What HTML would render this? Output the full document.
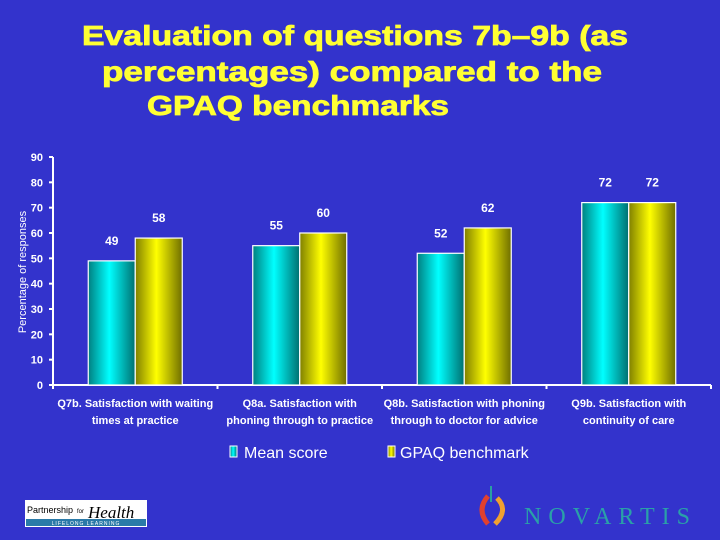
<!DOCTYPE html>
<html><head><meta charset="utf-8"><style>
body{margin:0;background:#3333cc;}
svg{display:block;font-family:"Liberation Sans",Arial,sans-serif;}
</style></head><body>
<svg id="chart" width="720" height="540" viewBox="0 0 720 540">
<defs>
<linearGradient id="gc" x1="0" x2="1" y1="0" y2="0"><stop offset="0" stop-color="#007f80"/><stop offset="0.45" stop-color="#00ffff"/><stop offset="1" stop-color="#006f70"/></linearGradient>
<linearGradient id="gy" x1="0" x2="1" y1="0" y2="0"><stop offset="0" stop-color="#807f00"/><stop offset="0.45" stop-color="#ffff00"/><stop offset="1" stop-color="#6f6e00"/></linearGradient>
</defs>
<rect width="720" height="540" fill="#3333cc"/>
<g fill="#ffff33" font-weight="bold" font-size="28" text-anchor="middle" stroke="#ffff33" stroke-width="0.8">
<text x="355" y="45" textLength="546" lengthAdjust="spacingAndGlyphs">Evaluation of questions 7b–9b (as</text>
<text x="352" y="81" textLength="500" lengthAdjust="spacingAndGlyphs">percentages) compared to the</text>
<text x="298" y="115" textLength="302" lengthAdjust="spacingAndGlyphs">GPAQ benchmarks</text>
</g>
<text transform="translate(26,272) rotate(-90)" text-anchor="middle" fill="#fff" font-size="11">Percentage of responses</text>
<g id="axes"></g>
<g id="bars"></g>
<g font-size="16" fill="#fff">
<rect x="230" y="446" width="7" height="11" fill="url(#gc)" stroke="#fff"/>
<text x="244" y="458">Mean score</text>
<rect x="388" y="446" width="7" height="11" fill="url(#gy)" stroke="#fff"/>
<text x="400" y="458">GPAQ benchmark</text>
</g>
<g>
<rect x="25" y="500" width="122" height="27" fill="#fff"/>
<text x="27" y="513" font-size="9" fill="#000">Partnership</text>
<text x="77" y="513" font-size="6" fill="#000">for</text>
<text x="88" y="518" font-size="17" font-style="italic" font-family="Liberation Serif,serif" fill="#000">Health</text>
<rect x="26" y="519" width="120" height="7" fill="#2a7aa8"/>
<text x="86" y="525" font-size="5" fill="#fff" text-anchor="middle" letter-spacing="1">LIFELONG LEARNING</text>
</g>
<g>
<path d="M488 496 q-12 14 0 28" stroke="#e04030" stroke-width="5" fill="none"/>
<path d="M497 498 q12 12 -2 26" stroke="#f0a030" stroke-width="5" fill="none"/>
<rect x="490" y="486" width="2" height="16" fill="#2aa0a0"/>
<text x="524" y="524" font-size="24" font-family="Liberation Serif,serif" fill="#2aa0a8" textLength="166" lengthAdjust="spacing">NOVARTIS</text>
</g>
</svg>
<script>
const categories1 = ["Q7b. Satisfaction with waiting","Q8a. Satisfaction with","Q8b. Satisfaction with phoning","Q9b. Satisfaction with"];
const categories2 = ["times at practice","phoning through to practice","through to doctor for advice","continuity of care"];
const meanScore = [49, 55, 52, 72];
const gpaqBenchmark = [58, 60, 62, 72];
const meanLabels = ["49","55","52","72"];
const gpaqLabels = ["58","60","62","72"];
const yTicks = [0,10,20,30,40,50,60,70,80,90];

const NS="http://www.w3.org/2000/svg";
const x0=53,x1=711,y0=385,yTop=157,yMax=90;
const gw=(x1-x0)/categories1.length, bw=47;
const yS=v=>y0-(v/yMax)*(y0-yTop);
const xC=i=>x0+gw*(i+0.5);
function mk(tag,attrs,parent,txt){const e=document.createElementNS(NS,tag);for(const k in attrs)e.setAttribute(k,attrs[k]);if(txt!==undefined)e.textContent=txt;parent.appendChild(e);return e;}
const ax=document.getElementById('axes'), bars=document.getElementById('bars');
let l=mk('line',{x1:x0,y1:yTop,x2:x0,y2:y0,stroke:'#fff','stroke-width':2},ax);


l=mk('line',{x1:x0,y1:y0,x2:x1,y2:y0,stroke:'#fff','stroke-width':2},ax);


yTicks.forEach(t=>{
  const y=yS(t);
  mk('line',{x1:x0-4,y1:y,x2:x0,y2:y,stroke:'#fff','stroke-width':2},ax);
  const tx=mk('text',{x:x0-10,y:y+4,'text-anchor':'end','font-size':11,fill:'#fff','font-weight':'bold'},ax,String(t));
  
  
});
for(let i=0;i<=categories1.length;i++){
  mk('line',{x1:x0+gw*i,y1:y0,x2:x0+gw*i,y2:y0+4,stroke:'#fff','stroke-width':2},ax);
}
categories1.forEach((c,i)=>{
  const t=mk('text',{x:xC(i),y:y0+22,'text-anchor':'middle','font-size':11,fill:'#fff','font-weight':'bold'},ax,c);
  
  
  const t2=mk('text',{x:xC(i),y:y0+39,'text-anchor':'middle','font-size':11,fill:'#fff','font-weight':'bold'},ax,categories2[i]);
  
  
});
function drawSeries(vals,labels,off,fill,name){
  vals.forEach((v,i)=>{
    const x=xC(i)+off, y=yS(v);
    const r=mk('rect',{x:x,y:y,width:bw,height:y0-y,fill:fill,stroke:'#fff','stroke-width':1.2},bars);
    
    
    const t=mk('text',{x:x+bw/2,y:y-16,'text-anchor':'middle','font-size':12,fill:'#fff','font-weight':'bold'},bars,labels[i]);
    
    
  });
}
drawSeries(meanScore,meanLabels,-bw,'url(#gc)','mean-score');
drawSeries(gpaqBenchmark,gpaqLabels,0,'url(#gy)','gpaq-benchmark');
</script>
</body></html>
